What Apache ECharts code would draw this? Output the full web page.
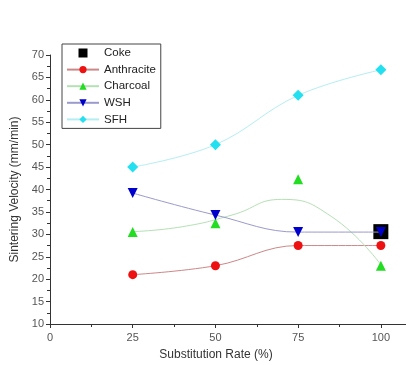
<!DOCTYPE html>
<html><head><meta charset="utf-8">
<script src="https://cdn.jsdelivr.net/npm/echarts@6/dist/echarts.min.js"></script>
<style>html,body{margin:0;padding:0;background:#fff}#c{width:406px;height:365px}</style>
</head><body><div id="c"></div>
<script>
const xValues = [25, 50, 75, 100];
const coke = [[100, 30.6]];
const anthracite = [21.0, 23.0, 27.5, 27.5];
const charcoal = [30.5, 32.5, 42.3, 23.0];
const charcoalFitX = [25, 40, 55, 70, 85, 100];
const charcoalFitY = [30.6, 31.7, 34.3, 37.8, 34.0, 23.2];
const wsh = [39.2, 34.3, 30.5, 30.5];
const sfh = [45.0, 50.0, 61.0, 66.7];
const legendNames = ['Coke', 'Anthracite', 'Charcoal', 'WSH', 'SFH'];

const pair = (xs, ys) => xs.map((x, i) => [x, ys[i]]);
const font = 'Liberation Sans, Arial, sans-serif';
const chart = echarts.init(document.getElementById('c'));
chart.setOption({
  animation: false,
  backgroundColor: '#fff',
  grid: { left: 50, top: 55, bottom: 41, right: 0, outerBoundsMode: 'none', containLabel: false },
  legend: {
    orient: 'vertical', left: 62, top: 44,
    data: [
      { name: legendNames[0], icon: 'path://M0,0L10,0L10,10L0,10Z', itemStyle: { color: '#000', opacity: 1 } },
      legendNames[1], legendNames[2], legendNames[3], legendNames[4]
    ],
    borderColor: '#444', borderWidth: 1, borderRadius: 0,
    padding: [3, 5, 3, 4],
    itemWidth: 32, itemHeight: 9, itemGap: 4.6,
    textStyle: { fontFamily: font, fontSize: 11.5, color: '#222' }
  },
  xAxis: {
    type: 'value', min: 0, max: 107.6, interval: 25,
    name: 'Substitution Rate (%)', nameLocation: 'middle', nameGap: 25,
    nameTextStyle: { fontFamily: font, fontSize: 12, color: '#333', padding: [0, 24, 0, 0] },
    axisLine: { onZero: false, lineStyle: { color: '#333', width: 1 } },
    axisTick: { show: true, length: 4, lineStyle: { color: '#333' } },
    minorTick: { show: true, splitNumber: 2, length: 3, lineStyle: { color: '#333' } },
    axisLabel: { fontFamily: font, fontSize: 11, color: '#555', showMaxLabel: false, margin: 8 },
    splitLine: { show: false }
  },
  yAxis: {
    type: 'value', min: 10, max: 70, interval: 5,
    name: 'Sintering Velocity (mm/min)', nameLocation: 'middle', nameGap: 26, nameRotate: 90,
    nameTextStyle: { fontFamily: font, fontSize: 12, color: '#333' },
    axisLine: { show: true, lineStyle: { color: '#333', width: 1 } },
    axisTick: { show: true, length: 4, lineStyle: { color: '#333' } },
    minorTick: { show: true, splitNumber: 2, length: 3, lineStyle: { color: '#333' } },
    axisLabel: { fontFamily: font, fontSize: 11, color: '#555', margin: 6 },
    splitLine: { show: false }
  },
  series: [
    { name: 'Coke', type: 'scatter', data: coke, symbol: 'rect', symbolSize: 15,
      itemStyle: { color: '#000', opacity: 1 }, z: 2 },
    { name: 'Anthracite', type: 'line', data: pair(xValues, anthracite), smooth: 0.4,
      symbol: 'circle', symbolSize: 9, itemStyle: { color: '#ee1111' },
      lineStyle: { color: '#cc8888', width: 1 }, z: 3 },
    { name: 'Charcoal', type: 'line', data: pair(charcoalFitX, charcoalFitY), smooth: 0.5,
      symbol: 'triangle', symbolSize: 10, showSymbol: false, itemStyle: { color: '#22dd22' },
      lineStyle: { color: '#b5e0b5', width: 1 }, z: 3 },
    { name: 'Charcoal', type: 'scatter', data: pair(xValues, charcoal),
      symbol: 'triangle', symbolSize: 10, itemStyle: { color: '#22dd22', opacity: 1 }, z: 4 },
    { name: 'WSH', type: 'line', data: pair(xValues, wsh), smooth: 0.4,
      symbol: 'triangle', symbolRotate: 180, symbolSize: 10, itemStyle: { color: '#0000cc' },
      lineStyle: { color: '#9a9acc', width: 1 }, z: 5 },
    { name: 'SFH', type: 'line', data: pair(xValues, sfh), smooth: 0.4,
      symbol: 'diamond', symbolSize: 11, itemStyle: { color: '#22e0f0' },
      lineStyle: { color: '#b5eef2', width: 1 }, z: 5 }
  ]
});
</script></body></html>
